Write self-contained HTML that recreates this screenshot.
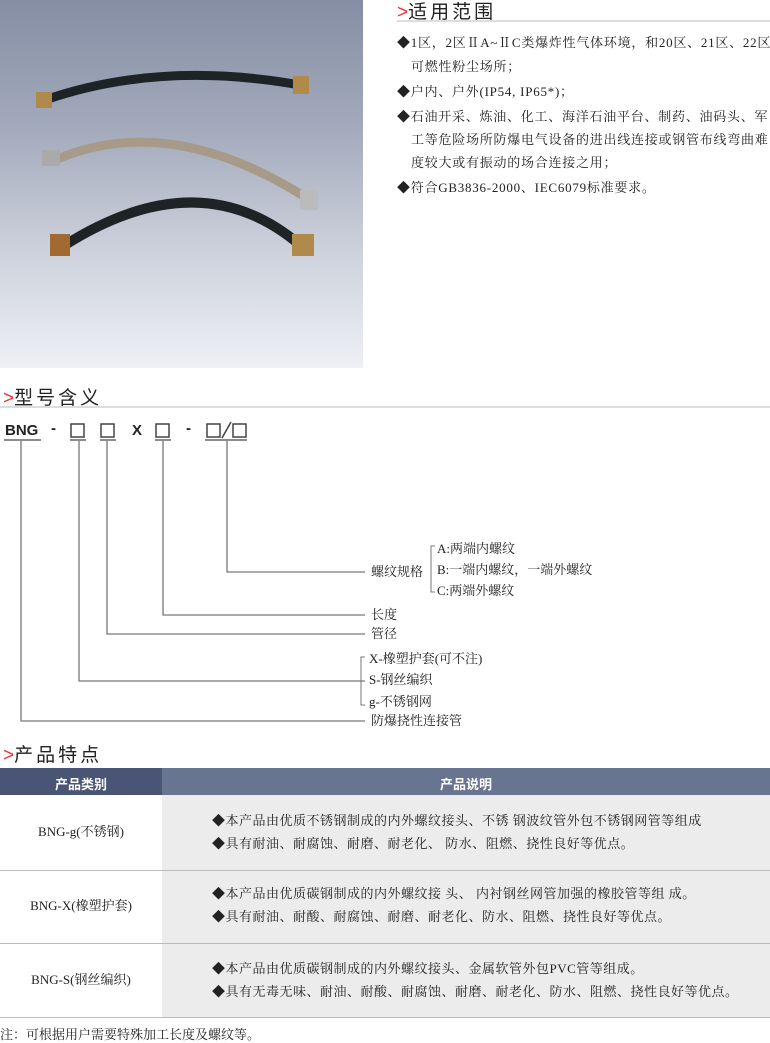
<!DOCTYPE html>
<html><head><meta charset="utf-8"><style>
*{margin:0;padding:0;box-sizing:border-box}
body{width:770px;height:1042px;position:relative;background:#fff;font-family:"Liberation Serif","Noto Serif CJK SC","Noto Sans CJK SC",serif;color:#222;overflow:hidden}
.a{position:absolute;white-space:nowrap}
.h{font-family:"Liberation Sans","Noto Sans CJK SC",sans-serif;font-size:19px;letter-spacing:3px;color:#222}
.h b{color:#e33;font-weight:normal;font-family:"Liberation Sans",sans-serif;letter-spacing:0}
.t{font-size:13px;line-height:16px}
.r{letter-spacing:0.75px}
.d{letter-spacing:0.5px}
.ln{position:absolute;background:#555}
.s{font-family:"Liberation Sans","Noto Sans CJK SC",sans-serif;font-size:13px}
</style></head><body>
<div class="a" style="left:0;top:0;width:363px;height:368px;background:linear-gradient(180deg,#858ea4 0%,#a3aabc 35%,#cfd3dd 70%,#eef0f4 100%)"></div>
<svg class="a" style="left:0;top:0" width="363" height="368">
<path d="M45 100 Q160 60 300 85" stroke="#1e2426" stroke-width="9" fill="none"/>
<rect x="36" y="92" width="16" height="16" fill="#b08a4a"/><rect x="293" y="76" width="16" height="18" fill="#b08a4a"/>
<path d="M55 160 Q170 110 310 200" stroke="#a89a88" stroke-width="9" fill="none"/>
<rect x="42" y="150" width="18" height="16" fill="#aaa"/><rect x="300" y="190" width="18" height="20" fill="#bbb"/>
<path d="M65 245 Q200 160 300 245" stroke="#1e2426" stroke-width="10" fill="none"/>
<rect x="50" y="234" width="20" height="22" fill="#a06a30"/><rect x="292" y="234" width="22" height="22" fill="#b08a4a"/>
</svg>
<div class="a h" style="left:397px;top:-3px"><b>&gt;</b>适用范围</div>
<div class="ln" style="left:397px;top:20px;width:373px;height:2px;background:#ddd"></div>
<div class="a t r" style="left:397px;top:35px">◆1区，2区ⅡA~ⅡC类爆炸性气体环境，和20区、21区、22区</div>
<div class="a t r" style="left:411px;top:59px">可燃性粉尘场所；</div>
<div class="a t r" style="left:397px;top:84px">◆户内、户外(IP54, IP65*)；</div>
<div class="a t r" style="left:397px;top:109px">◆石油开采、炼油、化工、海洋石油平台、制药、油码头、军</div>
<div class="a t r" style="left:411px;top:132px">工等危险场所防爆电气设备的进出线连接或钢管布线弯曲难</div>
<div class="a t r" style="left:411px;top:155px">度较大或有振动的场合连接之用；</div>
<div class="a t r" style="left:397px;top:180px">◆符合GB3836-2000、IEC6079标准要求。</div>

<div class="a h" style="left:3px;top:383px"><b>&gt;</b>型号含义</div>
<div class="ln" style="left:0;top:406px;width:770px;height:2px;background:#ddd"></div>
<div class="a" style="left:5px;top:422px;font:bold 15px 'Liberation Sans',sans-serif">BNG</div>
<div class="a" style="left:51px;top:420px;font:bold 15px 'Liberation Sans',sans-serif">-</div>
<div class="a" style="left:132px;top:422px;font:bold 15px 'Liberation Sans',sans-serif">X</div>
<div class="a" style="left:186px;top:420px;font:bold 15px 'Liberation Sans',sans-serif">-</div>
<svg class="a" style="left:0;top:0" width="770" height="740" fill="none" stroke="#444" stroke-width="1.5">
<rect x="71" y="424" width="13" height="13"/><rect x="101" y="424" width="13" height="13"/><rect x="156" y="424" width="13" height="13"/><rect x="207" y="424" width="13" height="13"/><rect x="233" y="424" width="13" height="13"/>
<path d="M222 438 L231 422"/>
<path d="M4 440H41M70 440H86M100 440H116M155 440H171M205 440H247" stroke="#666"/>
<path d="M21 441V721H365M79 441V681H365M107 441V634H365M163 441V615H365M227 441V572H365" stroke="#777" stroke-width="1.3"/>
<path d="M435 546H431V592H435M365 657H361V705H365" stroke="#777" stroke-width="1"/>
</svg>
<div class="a t" style="left:371px;top:564px">螺纹规格</div>
<div class="a t" style="left:437px;top:541px">A:两端内螺纹</div>
<div class="a t" style="left:437px;top:562px">B:一端内螺纹，一端外螺纹</div>
<div class="a t" style="left:437px;top:583px">C:两端外螺纹</div>
<div class="a t" style="left:371px;top:607px">长度</div>
<div class="a t" style="left:371px;top:626px">管径</div>
<div class="a t" style="left:369px;top:651px">X-橡塑护套(可不注)</div>
<div class="a t" style="left:369px;top:672px">S-钢丝编织</div>
<div class="a t" style="left:369px;top:694px">g-不锈钢网</div>
<div class="a t" style="left:371px;top:713px">防爆挠性连接管</div>

<div class="a h" style="left:3px;top:740px"><b>&gt;</b>产品特点</div>
<div class="ln" style="left:0;top:768px;width:162px;height:27px;background:#4a5575"></div>
<div class="ln" style="left:162px;top:768px;width:608px;height:27px;background:#687590"></div>
<div class="a s" style="left:0;top:774px;width:162px;text-align:center;color:#fff;font-weight:bold">产品类别</div>
<div class="a s" style="left:162px;top:774px;width:608px;text-align:center;color:#fff;font-weight:bold">产品说明</div>
<div class="ln" style="left:162px;top:795px;width:608px;height:222px;background:#ececec"></div>
<div class="ln" style="left:0;top:870px;width:770px;height:1px;background:#bbb"></div>
<div class="ln" style="left:0;top:943px;width:770px;height:1px;background:#bbb"></div>
<div class="ln" style="left:0;top:1017px;width:770px;height:1px;background:#bbb"></div>
<div class="a t" style="left:0;top:824px;width:162px;text-align:center">BNG-g(不锈钢)</div>
<div class="a t" style="left:0;top:898px;width:162px;text-align:center">BNG-X(橡塑护套)</div>
<div class="a t" style="left:0;top:972px;width:162px;text-align:center">BNG-S(钢丝编织)</div>
<div class="a t d" style="left:212px;top:813px">◆本产品由优质不锈钢制成的内外螺纹接头、不锈 钢波纹管外包不锈钢网管等组成</div>
<div class="a t d" style="left:212px;top:836px">◆具有耐油、耐腐蚀、耐磨、耐老化、  防水、阻燃、挠性良好等优点。</div>
<div class="a t d" style="left:212px;top:886px">◆本产品由优质碳钢制成的内外螺纹接 头、  内衬钢丝网管加强的橡胶管等组 成。</div>
<div class="a t d" style="left:212px;top:909px">◆具有耐油、耐酸、耐腐蚀、耐磨、耐老化、防水、阻燃、挠性良好等优点。</div>
<div class="a t d" style="left:212px;top:961px">◆本产品由优质碳钢制成的内外螺纹接头、金属软管外包PVC管等组成。</div>
<div class="a t d" style="left:212px;top:984px">◆具有无毒无味、耐油、耐酸、耐腐蚀、耐磨、耐老化、防水、阻燃、挠性良好等优点。</div>
<div class="a t" style="left:0;top:1027px">注：可根据用户需要特殊加工长度及螺纹等。</div>
</body></html>
